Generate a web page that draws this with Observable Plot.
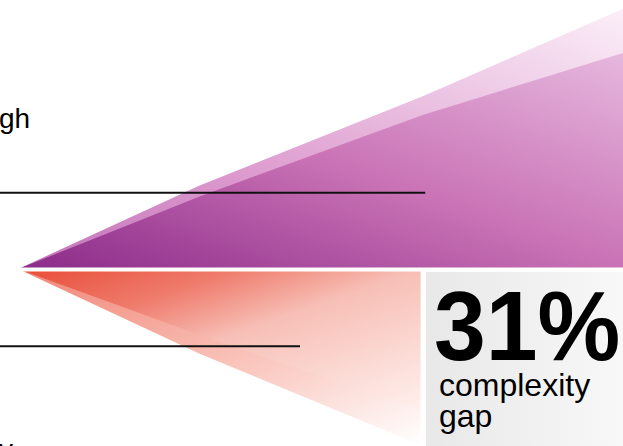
<!DOCTYPE html>
<html>
<head>
<meta charset="utf-8">
<script src="https://cdn.jsdelivr.net/npm/d3@7"></script>
<script src="https://cdn.jsdelivr.net/npm/@observablehq/plot@0.6"></script>
<style>
  html, body { margin: 0; padding: 0; background: #fff; overflow: hidden; }
  #wrap { position: relative; width: 623px; height: 446px; overflow: hidden; }
  #wrap > svg { position: absolute; left: 0; top: 0; }
  #overlay { position: absolute; left: 0; top: 0; pointer-events: none; }
  #overlay text { font-family: "Liberation Sans", Arial, Helvetica, sans-serif; fill: #000; }
</style>
</head>
<body>
<div id="wrap"></div>
<script>
// ---- data ----
// upper (purple) wedge: distance along, outer edge and inner edge
const upperX     = [0, 30, 67, 100];
const upperOuter = [0, 13.8, 28.6, 43.0];
const upperInner = [0, 12.0, 25.5, 35.7];
// lower (coral) wedge
const lowerX     = [0, 30, 66.5];
const lowerOuter = [0, -14.0, -29.1];
const lowerInner = [0, -10.9, -23.3];
// marker lines
const markerLevel = [12.7, -12.7];
const markerEnd   = [67.3, 46.6];
const markerStart = -3;
// texts
const bigValue   = "31%";
const valueLabel = ["complexity", "gap"];
const cutLabels  = ["gh", "y"];

const upper = upperX.map((x, i) => ({x, outer: upperOuter[i], inner: upperInner[i]}));
const lower = lowerX.map((x, i) => ({x, outer: lowerOuter[i], inner: lowerInner[i]}));
const markers = markerLevel.map((y, i) => ({y, x1: markerStart, x2: markerEnd[i]}));

function gradient(defs, id, dir, stops) {
  const g = defs.append("linearGradient").attr("id", id)
    .attr("x1", dir[0]).attr("y1", dir[1]).attr("x2", dir[2]).attr("y2", dir[3]);
  stops.forEach(([o, c]) => g.append("stop").attr("offset", o).attr("stop-color", c));
}

const defsMark = () => {
  const defs = d3.create("svg:defs");
  gradient(defs, "pOuter", [0, 1, 1, 0], [[0, "#c274b9"], [0.35, "#dc98cd"], [1, "#fbeef8"]]);
  gradient(defs, "pInner", [0, 1, 1, 0], [[0, "#8b2a89"], [0.5, "#c972b5"], [1, "#e6b8de"]]);
  gradient(defs, "oOuter", [0, 0, 1, 1], [[0, "#f08676"], [0.33, "#f6aa9e"], [0.66, "#fbd3cc"], [1, "#ffffff"]]);
  gradient(defs, "oInner", [0, 0, 1, 1], [[0, "#e84b37"], [0.27, "#ef7b6c"], [0.5, "#f7bfb6"], [1, "#fff0ed"]]);
  return defs.node();
};

const chart = Plot.plot({
  width: 623,
  height: 446,
  margin: 0,
  x: {domain: [-3, 100], axis: null},
  y: {domain: [-29.26, 44.46], axis: null},
  marks: [
    defsMark,
    Plot.areaY(upper, {x: "x", y1: () => 0, y2: "outer", fill: "url(#pOuter)"}),
    Plot.areaY(upper, {x: "x", y1: () => 0, y2: "inner", fill: "url(#pInner)"}),
    Plot.areaY(lower, {x: "x", y1: () => 0, y2: "outer", fill: "url(#oOuter)"}),
    Plot.areaY(lower, {x: "x", y1: () => 0, y2: "inner", fill: "url(#oInner)"}),
    Plot.ruleY([0], {stroke: "#fff", strokeWidth: 4}),
    Plot.ruleY(markers, {y: "y", x1: "x1", x2: "x2", stroke: "#111", strokeWidth: 2})
  ]
});
document.getElementById("wrap").append(chart);

// ---- callout overlay ----
const ov = d3.select("#wrap").append("svg").attr("id", "overlay")
  .attr("width", 623).attr("height", 446);
const gd = ov.append("defs").append("linearGradient").attr("id", "boxg")
  .attr("x1", 0).attr("y1", 0).attr("x2", 1).attr("y2", 0);
gd.append("stop").attr("offset", 0).attr("stop-color", "#e8e8e8");
gd.append("stop").attr("offset", 1).attr("stop-color", "#f8f8f8");
ov.append("rect").attr("x", 426).attr("y", 272).attr("width", 197).attr("height", 174)
  .attr("fill", "url(#boxg)");
ov.append("text").attr("x", 0).attr("y", 0)
  .attr("transform", "translate(434,360) scale(0.95,1)")
  .attr("font-size", 98).attr("font-weight", "bold").text(bigValue);
valueLabel.forEach((t, i) => {
  ov.append("text").attr("x", 439).attr("y", 396 + i * 31)
    .attr("font-size", 32).text(t);
});
ov.append("text").attr("x", -1).attr("y", 128).attr("font-size", 28).text(cutLabels[0]);
ov.append("text").attr("x", -1).attr("y", 459).attr("font-size", 28).text(cutLabels[1]);
</script>
</body>
</html>
